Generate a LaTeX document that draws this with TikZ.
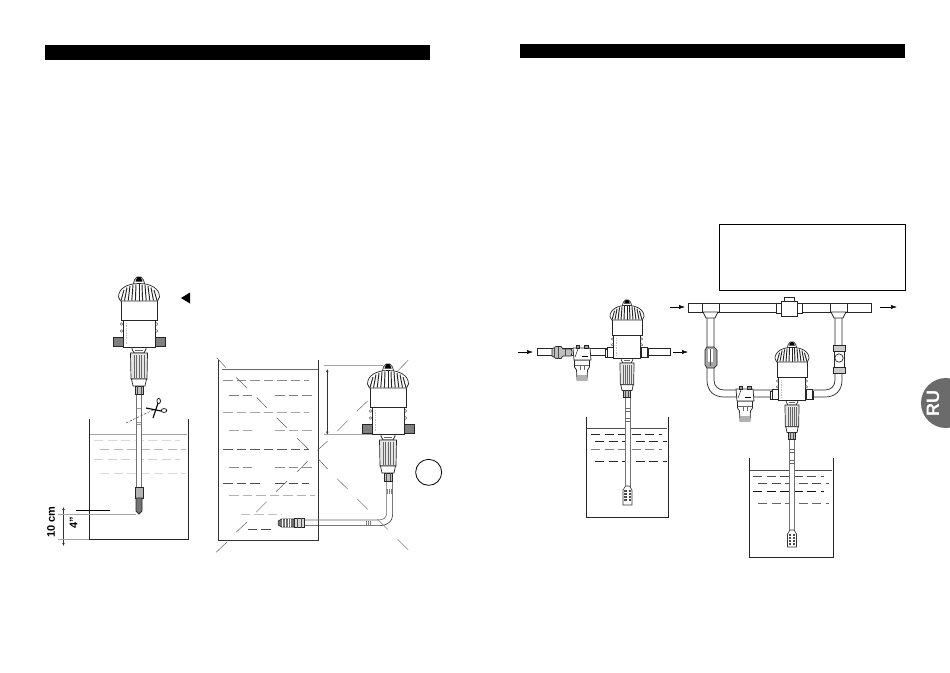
\documentclass[tikz,border=0pt]{standalone}
\usepackage{fontspec}
\setmainfont{Liberation Sans}
\usetikzlibrary{arrows.meta}
\definecolor{ruGray}{HTML}{6B6B6B}
\tikzset{
  ln/.style={line width=0.7pt,black!85},
  tankwall/.style={line width=0.9pt,black!85},
  flowarrow/.style={line width=0.5pt,black,-{Latex[length=6pt,width=4pt]}},
  dimarrow/.style={line width=0.4pt,black!80,{Latex[length=3pt,width=2.4pt]}-{Latex[length=3pt,width=2.4pt]}},
  extline/.style={line width=0.6pt,black!35},
  wdash/.style={line width=0.6pt,dash pattern=on 9pt off 4.5pt},
  diag/.style={line width=0.45pt,black!65},
  pipe/.style={line width=0.6pt,black!85,fill=white},
  tubeline/.style={line width=0.5pt,black!55,fill=white},
  boldlabel/.style={font=\bfseries\fontsize{11}{13}\selectfont,rotate=90,inner sep=0pt}
}
% cx, top, scale, flange fill
\newcommand{\pumpdraw}[4]{%
\begin{scope}[shift={(#1,#2)},scale=#3]
  \draw[ln,fill=#4] (-26,60) rectangle (-16,69);
  \draw[ln,fill=#4] (16,60) rectangle (26,69);
  \draw[ln,fill=white] (-7,69) -- (-7,72) -- (-5,76) -- (5,76) -- (7,72) -- (7,69) -- cycle;
  \draw[ln,fill=black!10] (-8.5,76) -- (-8,102) -- (8,102) -- (8.5,76) -- cycle;
  \foreach \q in {-5,-2.5,0,2.5,5} \draw[line width=0.5pt,black!60] (\q,78) -- (\q,101);
  \draw[ln,fill=white] (-7.5,102) -- (-6,109) -- (6,109) -- (7.5,102) -- cycle;
  \draw[ln,fill=black!25] (-4,109) rectangle (4,117);
  \draw[line width=0.4pt,black!70] (-2,109) -- (-2,117) (2,109) -- (2,117);
  \draw[ln,fill=white] (-16,43) rectangle (16,70);
  \draw[ln,fill=white] (-18,23) -- (-18,43) -- (18,43) -- (18,23) -- cycle;
  \foreach \q in {47,54} {\draw[line width=0.35pt,black!70] (-17.5,\q) circle (1.4); \draw[line width=0.35pt,black!70] (17.5,\q) circle (1.4);}
  \draw[ln,fill=white] (-6.5,10) -- (-4.5,3) -- (-2,0) -- (2,0) -- (4.5,3) -- (6.5,10) -- cycle;
  \fill[black] (-3.6,4.5) -- (-1.6,0.2) -- (1.6,0.2) -- (3.6,4.5) -- cycle;
  \draw[ln,fill=white] (-18.5,24) -- (-20.5,20) .. controls (-20.5,11) and (-11,6.5) .. (0,6.5) .. controls (11,6.5) and (20.5,11) .. (20.5,20) -- (18.5,24) -- cycle;
  \foreach \q/\r/\t in {-15/-18/13,-12/-14.5/10.5,-9/-10.8/9,-6/-7.2/8,-3/-3.6/7.5,0/0/7,3/3.6/7.5,6/7.2/8,9/10.8/9,12/14.5/10.5,15/18/13}
     \draw[line width=0.95pt,black!85] (\q,\t) -- (\r,23.5);
  \draw[line width=0.4pt,black!60] (-4,73) -- (4,73);
  \draw[line width=0.8pt,black!25,dash pattern=on 1pt off 0.7pt] (-12.5,46) -- (-12.5,67);
\end{scope}}
% cx, pipe y
\newcommand{\filterdraw}[2]{%
\begin{scope}[shift={(#1,#2)}]
  \draw[ln,fill=white] (-7.5,8) -- (-7.5,15) -- (-5.5,18) -- (-5,28) -- (5,28) -- (5.5,18) -- (7.5,15) -- (7.5,8) -- cycle;
  \draw[line width=0.5pt,black!60] (-7,13) -- (7,13);
  \fill[black!30] (-5.3,23) rectangle (5.3,28);
  \draw[line width=0.4pt,black!60] (-2,14) -- (-2,18) (2,14) -- (2,18);
  \draw[ln,fill=white] (-9,-4) -- (8,-4) -- (9,8) -- (-8,8) -- cycle;
  \draw[ln,fill=black!40] (-6,-6.5) rectangle (-2.5,-4);
  \draw[ln,fill=black!40] (2.5,-6.5) rectangle (6,-4);
  \draw[line width=0.4pt] (-7,5) -- (-4,-3);
  \draw[line width=0.8pt] (0,4) -- (6,4);
\end{scope}}
% cx, top y, bottom y
\newcommand{\strainerdraw}[3]{%
  \draw[line width=0.6pt,black!80,fill=white] (#1-4.5,#3) -- (#1-4.5,#2+4) -- (#1-2,#2) -- (#1+2,#2) -- (#1+4.5,#2+4) -- (#1+4.5,#3) -- cycle;
  \foreach \q in {5,8,11,14} {\draw[line width=1.1pt,black!70] (#1-3.4,#2+\q) -- (#1-1,#2+\q); \draw[line width=1.1pt,black!70] (#1+1,#2+\q) -- (#1+3.4,#2+\q);}
}
\begin{document}
\begin{tikzpicture}[x=1pt,y=-1pt]
\useasboundingbox (0,0) rectangle (950,672);
\fill[white] (0,0) rectangle (950,672);
% header bars
\fill[black] (45,45) rectangle (430,60);
\fill[black] (520,44) rectangle (905,58);
% note box
\draw[line width=0.9pt] (719,224) rectangle (905,290);

%%%%% LEFT SCENE 1 %%%%%
\draw[tankwall] (89,419) -- (89,539) -- (188,539) -- (188,419);
\draw[line width=0.6pt,black!35] (90,434) -- (187,434);
\draw[wdash,black!15] (94,440) -- (180,440);
\draw[wdash,black!28] (100,449) -- (186,449);
\draw[wdash,black!18] (94,459) -- (180,459);
\draw[wdash,black!15] (100,473) -- (186,473);
% tube
\draw[tubeline] (136.5,394) rectangle (141.5,490);
\draw[line width=0.5pt,black!40] (137,408) -- (141,408) (137,422) -- (141,422) (137,424) -- (141,424);
\draw[ln,fill=black!30] (135,487) rectangle (143,498);
\draw[ln,fill=black!55] (136,498) -- (136,511) -- (139,514) -- (142,511) -- (142,498) -- cycle;
\pumpdraw{139}{277}{1}{black!50}
\fill[black] (181,298) -- (190,292.5) -- (190,303.5) -- cycle;
% scissors
\draw[line width=0.5pt,black!70,dash pattern=on 2.5pt off 1.5pt] (126,423) -- (153,410);
\draw[line width=1.1pt] (153,418) -- (158,403);
\draw[line width=1.1pt] (146,408) -- (161,411);
\draw[line width=0.7pt] (158.7,401) ellipse (1.8 and 2.6);
\draw[line width=0.7pt] (164,410.5) ellipse (2.8 and 1.9);
% depth dimension
\coordinate (d1a) at (63.5,507);
\coordinate (d1b) at (63.5,546);
\draw[dimarrow] (d1a) -- (d1b);
\draw[extline] (58,514) -- (136,514);
\draw[extline] (58,539) -- (89,539);
\draw[line width=0.8pt] (76,510) -- (110,510);
\node[boldlabel] (lblcm) at (51,522) {10 cm};
\node[boldlabel] (lblin) at (73.5,523) {4"};

%%%%% LEFT SCENE 2 %%%%%
\begin{scope}[shift={(210,345)},scale=1/3]
\draw[line width=1pt,black!80] (25,45) -- (25,585) -- (325,585) -- (325,45);
\draw[line width=1pt,black!60] (37,72) -- (325,72);
\foreach \a/\b/\y/\c in {40/297/105/45,58/135/150/50,195/315/150/50,40/297/202/35,58/135/256/35,195/315/256/35,40/297/313/65,58/135/367/45,195/315/367/45,40/160/414/70,195/297/414/70,58/315/452/30,92/215/508/25,113/187/552/70}
  \draw[line width=0.6pt,black!\c,dash pattern=on 9.5pt off 4pt] (\a,\y) -- (\b,\y);
\foreach \a/\b/\c/\d in {20/38/48/68,78/97/110/128,140/157/170/188,200/218/230/248,262/280/295/312,325/342/353/372,382/402/413/432,442/462/473/493,563/583/595/615,18/622/50/592,78/562/110/532,138/502/170/470,198/440/232/408,262/380/293/348,322/316/353/288,382/258/413/227,442/197/473/168,502/137/533/107,563/78/595/45}
  \draw[diag] (\a,\b) -- (\c,\d);
\draw[extline] (343,60) -- (520,60);
\draw[extline] (343,268) -- (485,268);
\coordinate (d2a) at (352,72);
\coordinate (d2b) at (352,269);
\draw[dimarrow] (d2a) -- (d2b);
\draw[line width=0.8pt] (656,382) circle (39);
% hose
\draw[line width=0.55pt,black!60] (530,400) -- (530,505) .. controls (530,518) and (520,525) .. (505,525) -- (285,525);
\draw[line width=0.6pt,black!80] (548,400) -- (548,510) .. controls (548,530) and (530,542) .. (510,542) -- (285,542);
\draw[line width=0.5pt,black!50] (532,432) -- (532,446) (538,432) -- (538,446) (544,432) -- (544,446);
\draw[line width=0.5pt,black!50] (470,527) -- (470,541) (476,527) -- (476,541) (481,527) -- (481,541);
\draw[diag] (502,522) -- (533,553);
\draw[ln,fill=black!15] (253,519) rectangle (284,548);
\draw[line width=0.5pt,black!70] (262,519) -- (262,548) (274,519) -- (274,548);
\draw[ln,fill=black!55] (253,522) -- (215,522) -- (205,528) -- (205,540) -- (215,546) -- (253,546) -- cycle;
\foreach \q in {218,226,234,242} \draw[line width=0.6pt,white] (\q,523) -- (\q,545);
\end{scope}
\pumpdraw{388}{364}{1}{black!50}

%%%%% RIGHT SCENE 1 %%%%%
\draw[tankwall] (586,417) -- (586,517) -- (668,517) -- (668,417);
\draw[line width=0.7pt,black!70] (587,428) -- (667,428);
\draw[wdash,black!85] (591,434) -- (662,434);
\draw[wdash,black!85] (595,441) -- (667,441);
\draw[wdash,black!50] (591,449) -- (662,449);
\draw[wdash,black!85] (595,461) -- (667,461);
\draw[tubeline] (625,395) rectangle (630,487);
\draw[line width=0.5pt,black!60] (625,408) -- (630,408) (625,411) -- (630,411) (625,418) -- (630,418) (625,421) -- (630,421);
\strainerdraw{627.5}{486}{505}
% pipe
\draw[pipe] (537,348) rectangle (670,355);
\coordinate (a1) at (518,352);\coordinate (a1e) at (533,352);
\coordinate (a2) at (673,352);\coordinate (a2e) at (688,352);
\draw[flowarrow] (a1) -- (a1e);
\draw[flowarrow] (a2) -- (a2e);
\draw[ln,fill=black!25] (552,349) -- (556,346.5) -- (561,346.5) -- (563,349) -- (571,349) -- (572,351) -- (572,353) -- (571,356) -- (563,356) -- (561,358.5) -- (556,358.5) -- (552,356) -- cycle;
\draw[line width=0.7pt,black!70] (554,347) -- (554,358) (558,346.5) -- (558,358.5) (565,349) -- (565,356);
\filterdraw{582}{352}
\pumpdraw{627}{300}{0.83}{white}
\draw[ln,fill=white] (607,347) rectangle (613,357);
\draw[ln,fill=white] (641,347) rectangle (647,357);

%%%%% RIGHT SCENE 2 %%%%%
\draw[tankwall] (749,458) -- (749,557) -- (833,557) -- (833,458);
\draw[line width=0.7pt,black!70] (750,470) -- (832,470);
\draw[wdash,black!70] (753,476) -- (824,476);
\draw[wdash,black!70] (758,483) -- (829,483);
\draw[wdash,black!95] (753,491) -- (824,491);
\draw[wdash,black!60] (758,503) -- (829,503);
\draw[tubeline] (789.5,437) rectangle (794.5,530);
\draw[line width=0.5pt,black!60] (789.5,449) -- (794.5,449) (789.5,452) -- (794.5,452) (789.5,460) -- (794.5,460) (789.5,463) -- (794.5,463);
\strainerdraw{792}{530}{547}
% bypass
\draw[ln] (707,312) -- (707,380) .. controls (707,391) and (714,397) .. (724,397) -- (775,397);
\draw[ln] (714,312) -- (714,380) .. controls (714,386) and (718,390) .. (724,390) -- (775,390);
\draw[ln] (835,312) -- (835,380) .. controls (835,386) and (831,390) .. (825,390) -- (810,390);
\draw[ln] (842,312) -- (842,380) .. controls (842,391) and (835,397) .. (825,397) -- (810,397);
% main line
\draw[pipe] (688,303) rectangle (871,312);
\draw[ln,fill=white] (702,303) rectangle (719,312);
\draw[ln,fill=white] (703,312) -- (706,318) -- (715,318) -- (718,312) -- cycle;
\draw[ln,fill=white] (830,303) rectangle (847,312);
\draw[ln,fill=white] (831,312) -- (834,318) -- (843,318) -- (846,312) -- cycle;
\draw[ln,fill=white] (776,303) rectangle (802,313);
\draw[ln,fill=white] (781,301) rectangle (797,316);
\draw[ln,fill=white] (784,301) -- (784,297.5) -- (794,297.5) -- (794,301);
\coordinate (a3) at (670,307);\coordinate (a3e) at (685,307);
\coordinate (a4) at (880,307);\coordinate (a4e) at (897,307);
\draw[flowarrow] (a3) -- (a3e);
\draw[flowarrow] (a4) -- (a4e);
% valves
\draw[ln,fill=black!35] (705,350) -- (707,347) -- (714,347) -- (717,350) -- (717,365) -- (714,368) -- (707,368) -- (705,365) -- cycle;
\fill[white] (708,349) rectangle (713,362);
\draw[line width=0.5pt,black!70] (710.5,349) -- (710.5,366);
\draw[ln,fill=black!20] (833,345) rectangle (845,351);
\draw[ln,fill=black!20] (833,367) rectangle (845,373);
\draw[ln,fill=white] (834,351) rectangle (844,367);
\draw[ln,fill=white] (839,358) circle (4.2);
\filterdraw{745}{393}
\pumpdraw{792}{342}{0.83}{white}
\draw[ln,fill=white] (772,389) rectangle (778,399);
\draw[ln,fill=white] (806,389) rectangle (812,399);

%%%%% RU tab %%%%%
\fill[ruGray] (946,403) circle (25);
\node[rotate=90,text=white,font=\bfseries\fontsize{18}{20}\selectfont,inner sep=0pt] (ru) at (933,403) {RU};
\end{tikzpicture}
\end{document}
